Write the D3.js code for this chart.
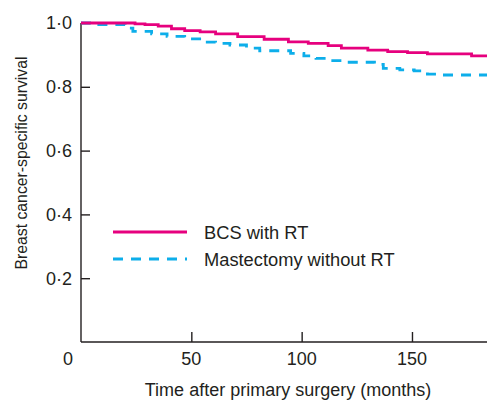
<!DOCTYPE html>
<html>
<head>
<meta charset="utf-8">
<script src="https://cdn.jsdelivr.net/npm/d3@7"></script>
<style>
  body { margin: 0; background: #fff; }
  svg { display: block; font-family: "Liberation Sans", Arial, sans-serif; }
</style>
</head>
<body>
<svg id="chart" width="487" height="400"></svg>
<script>
// Kaplan-Meier steps (months, survival)
var bcsTime = [0, 20, 24.5, 29, 35, 41, 47, 54, 61, 71, 83, 94, 103, 112, 118, 130, 139, 148, 157, 177, 184];
var bcsSurv = [1.0, 1.0, 0.997, 0.995, 0.990, 0.982, 0.976, 0.972, 0.966, 0.957, 0.949, 0.941, 0.936, 0.929, 0.921, 0.915, 0.910, 0.907, 0.903, 0.897, 0.897];

var mastTime = [0, 6, 20, 23.5, 32, 39, 47, 55, 61, 67.5, 75, 81, 95, 101, 106.5, 113, 119, 133, 137, 144.5, 151, 157, 162, 184];
var mastSurv = [1.0, 0.995, 0.984, 0.974, 0.966, 0.958, 0.950, 0.940, 0.936, 0.931, 0.921, 0.913, 0.905, 0.897, 0.889, 0.882, 0.877, 0.870, 0.858, 0.853, 0.850, 0.840, 0.837, 0.837];

var seriesNames = ['BCS with RT', 'Mastectomy without RT'];
var xTicks = [50, 100, 150];
var yTicks = [0.2, 0.4, 0.6, 0.8, 1.0];

var ink = '#231f20';
var pink = '#e6007e';
var blue = '#0daeea';

var svg = d3.select('#chart');

var x = d3.scaleLinear().domain([0, 184]).range([81, 487]);
var y = d3.scaleLinear().domain([0, 1]).range([342, 23]);

function fmt(d) { return d3.format('.1f')(d).replace('.', '\u00b7'); }

// y axis, ticks point inward
var yAxis = svg.append('g').attr('transform', 'translate(81,0)')
  .call(d3.axisRight(y).tickValues(yTicks).tickSize(9).tickFormat(''));
yAxis.select('.domain').attr('d', 'M0,' + y(1) + 'V' + y(0));

// x axis, ticks point up
var xAxis = svg.append('g').attr('transform', 'translate(0,342)')
  .call(d3.axisTop(x).tickValues(xTicks).tickSize(10).tickFormat(''));
xAxis.select('.domain').attr('d', 'M' + x(0) + ',0H' + x(184));

svg.selectAll('.domain, .tick line').attr('stroke', ink).attr('stroke-width', 1.4);

// tick labels
svg.selectAll('.ylab').data(yTicks).enter().append('text')
  .attr('x', 72).attr('y', function (d) { return y(d); })
  .attr('dy', '0.36em').attr('text-anchor', 'end')
  .attr('font-size', 18).attr('fill', ink)
  .text(fmt);

svg.selectAll('.xlab').data(xTicks).enter().append('text')
  .attr('x', function (d) { return x(d); }).attr('y', 365)
  .attr('text-anchor', 'middle')
  .attr('font-size', 18).attr('fill', ink)
  .text(function (d) { return d; });

// shared origin label
svg.append('text').attr('x', 68).attr('y', 365).attr('text-anchor', 'middle')
  .attr('font-size', 18).attr('fill', ink).text('0');

// axis titles
svg.append('text').attr('x', 288).attr('y', 396).attr('text-anchor', 'middle')
  .attr('font-size', 18).attr('fill', ink)
  .text('Time after primary surgery (months)');

// the original title is set in a narrow face: squeeze it to the measured length
svg.append('text').attr('transform', 'translate(27,163) rotate(-90)')
  .attr('text-anchor', 'middle').attr('font-size', 16.5).attr('fill', ink)
  .attr('textLength', 213).attr('lengthAdjust', 'spacingAndGlyphs')
  .text('Breast cancer-specific survival');

// curves
var line = d3.line()
  .x(function (d) { return x(d[0]); })
  .y(function (d) { return y(d[1]); })
  .curve(d3.curveStepAfter);

svg.append('path').datum(d3.zip(mastTime, mastSurv))
  .attr('d', line).attr('fill', 'none')
  .attr('stroke', blue).attr('stroke-width', 2.8)
  .attr('stroke-dasharray', '10,8');

svg.append('path').datum(d3.zip(bcsTime, bcsSurv))
  .attr('d', line).attr('fill', 'none')
  .attr('stroke', pink).attr('stroke-width', 2.8);

// legend
var legend = svg.append('g');
var colors = [pink, blue];
var dashes = ['none', '10,8'];
seriesNames.forEach(function (name, i) {
  var ly = 232 + i * 27;
  legend.append('line').attr('x1', 113).attr('x2', 187).attr('y1', ly).attr('y2', ly)
    .attr('stroke', colors[i]).attr('stroke-width', 2.8)
    .attr('stroke-dasharray', dashes[i]);
  legend.append('text').attr('x', 204).attr('y', ly).attr('dy', '0.36em')
    .attr('font-size', 18.3).attr('fill', ink).text(name);
});
</script>
</body>
</html>
